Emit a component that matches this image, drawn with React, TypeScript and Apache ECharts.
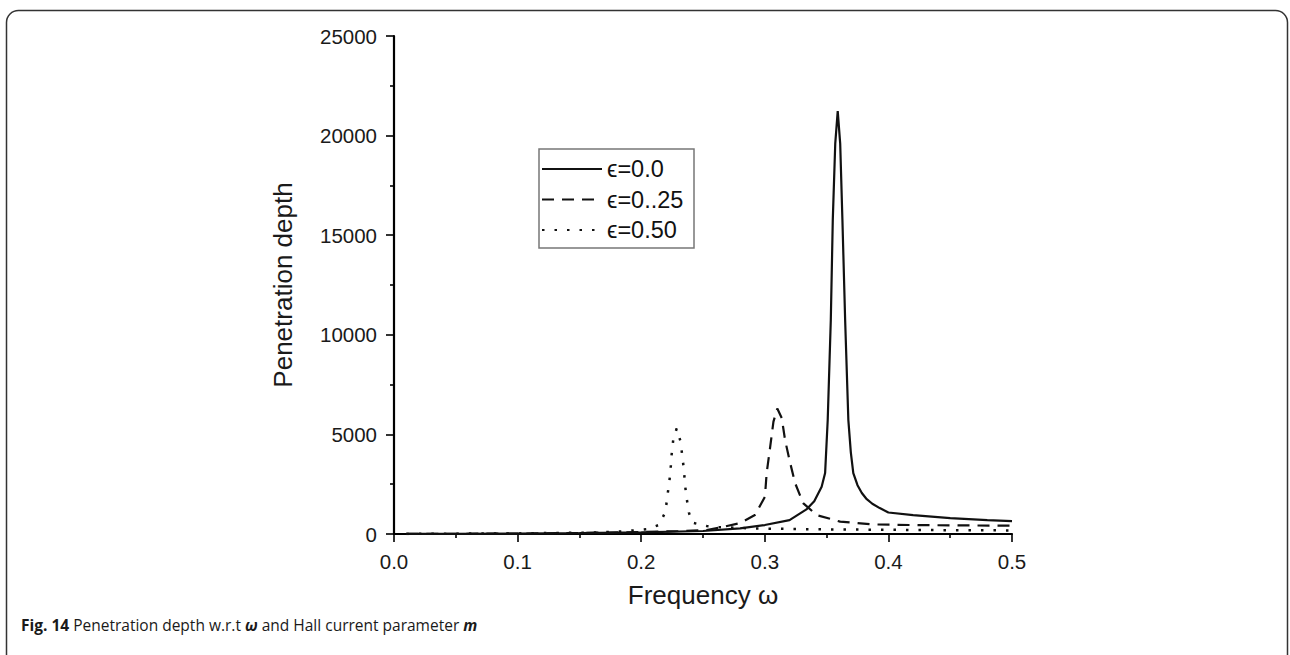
import React, { useEffect, useRef } from "react";
import * as echarts from "echarts";

// ε = 0.0 (solid)
const omega0 = [0.01, 0.05, 0.1, 0.15, 0.2, 0.25, 0.28, 0.3, 0.32, 0.334, 0.34, 0.346, 0.3488, 0.3509, 0.3534, 0.355, 0.357, 0.359, 0.361, 0.3628, 0.365, 0.3676, 0.3696, 0.3716, 0.375, 0.3785, 0.382, 0.387, 0.393, 0.4, 0.42, 0.45, 0.48, 0.5];
const values0 = [5, 10, 20, 40, 80, 150, 280, 450, 700, 1250, 1650, 2370, 3060, 5720, 10740, 15760, 19600, 21230, 19600, 15760, 10740, 5720, 4100, 3060, 2450, 2060, 1780, 1520, 1300, 1080, 950, 800, 700, 650];

// ε = 0.25 (dashed)
const omega25 = [0.01, 0.1, 0.15, 0.2, 0.23, 0.253, 0.266, 0.28, 0.292, 0.3001, 0.3015, 0.3042, 0.307, 0.3101, 0.3137, 0.3164, 0.32, 0.3245, 0.331, 0.342, 0.361, 0.3877, 0.42, 0.46, 0.5];
const values25 = [5, 20, 50, 100, 150, 200, 350, 550, 950, 1870, 3060, 4300, 5640, 6300, 5820, 4720, 3700, 2560, 1550, 950, 620, 480, 450, 430, 420];

// ε = 0.50 (dotted)
const omega50 = [0.01, 0.1, 0.158, 0.181, 0.192, 0.2044, 0.2143, 0.2197, 0.221, 0.2227, 0.2238, 0.2246, 0.2259, 0.2287, 0.2319, 0.2332, 0.2346, 0.2354, 0.2368, 0.2386, 0.2413, 0.253, 0.2627, 0.28, 0.3, 0.35, 0.4, 0.45, 0.5];
const values50 = [5, 30, 70, 115, 170, 240, 450, 1120, 1840, 2575, 3260, 3970, 4720, 5300, 4630, 3930, 3210, 2490, 1790, 1070, 570, 400, 350, 300, 270, 230, 210, 190, 180];

const seriesNames = ["ϵ=0.0", "ϵ=0..25", "ϵ=0.50"];
const xTicks = [0, 0.1, 0.2, 0.3, 0.4, 0.5];
const yTicks = [0, 5000, 10000, 15000, 20000, 25000];

const zip = (xs: number[], ys: number[]) => xs.map((x, i) => [x, ys[i]]);

const FONT = "'Liberation Sans', Arial, Helvetica, sans-serif";

export default function App() {
  const ref = useRef<HTMLDivElement>(null);
  useEffect(() => {
    if (!ref.current) return;
    const chart = echarts.init(ref.current, null, { renderer: "svg" });
    const lineCommon = {
      type: "line",
      symbol: "circle",
      showSymbol: false,
      symbolSize: 0,
      smooth: false,
      silent: true,
    };
    chart.setOption({
      animation: false,
      backgroundColor: "#ffffff",
      grid: { left: 394, right: 278, top: 36, bottom: 121, containLabel: false },
      xAxis: {
        type: "value",
        min: xTicks[0],
        max: xTicks[xTicks.length - 1],
        interval: 0.1,
        name: "Frequency ω",
        nameLocation: "middle",
        nameGap: 48,
        nameTextStyle: { fontFamily: FONT, fontSize: 26, color: "#1a1a1a" },
        axisLine: { show: true, lineStyle: { color: "#000", width: 2.2 } },
        axisTick: { show: true, inside: false, length: 8, lineStyle: { color: "#000", width: 1.6 } },
        minorTick: { show: true, splitNumber: 2, length: 4, lineStyle: { color: "#000", width: 1.6 } },
        axisLabel: {
          fontFamily: FONT,
          fontSize: 20.5,
          color: "#1a1a1a",
          margin: 17,
          formatter: (v: number) => v.toFixed(1),
        },
        splitLine: { show: false },
      },
      yAxis: {
        type: "value",
        min: yTicks[0],
        max: yTicks[yTicks.length - 1],
        interval: 5000,
        name: "Penetration depth",
        nameLocation: "middle",
        nameGap: 98,
        nameTextStyle: { fontFamily: FONT, fontSize: 26, color: "#1a1a1a" },
        axisLine: { show: true, lineStyle: { color: "#000", width: 2.2 } },
        axisTick: { show: true, inside: false, length: 8, lineStyle: { color: "#000", width: 1.6 } },
        minorTick: { show: true, splitNumber: 2, length: 4, lineStyle: { color: "#000", width: 1.6 } },
        axisLabel: {
          fontFamily: FONT,
          fontSize: 20.5,
          color: "#1a1a1a",
          margin: 17,
          formatter: (v: number) => String(v),
        },
        splitLine: { show: false },
      },
      legend: {
        orient: "vertical",
        left: 541,
        top: 157,
        padding: 0,
        itemWidth: 60,
        itemHeight: 14,
        itemGap: 6.5,
        itemStyle: { opacity: 0, borderWidth: 0 },
        textStyle: { fontFamily: FONT, fontSize: 23.5, color: "#111" },
        data: seriesNames,
        selectedMode: false,
      },
      graphic: [
        {
          type: "rect",
          silent: true,
          shape: { x: 6.5, y: 10.5, width: 1281, height: 720, r: 12 },
          style: { fill: "none", stroke: "#333", lineWidth: 1.5 },
        },
        {
          type: "rect",
          silent: true,
          shape: { x: 539, y: 149, width: 155, height: 99 },
          style: { fill: "none", stroke: "#777", lineWidth: 1.5 },
        },
        {
          type: "text",
          silent: true,
          left: 21,
          top: 617,
          style: {
            text: "{b|Fig. 14} Penetration depth w.r.t {bi|ω} and Hall current parameter {bi|m}",
            font: "15.5px 'Open Sans', 'Liberation Sans', sans-serif",
            fill: "#1a1a1a",
            rich: {
              b: { fontWeight: "bold", fontSize: 15.5, fontFamily: "'Open Sans', 'Liberation Sans', sans-serif", fill: "#1a1a1a" },
              bi: { fontWeight: "bold", fontStyle: "italic", fontSize: 15.5, fontFamily: "'Open Sans', 'Liberation Sans', sans-serif", fill: "#1a1a1a" },
            },
          },
        },
      ],
      series: [
        {
          ...lineCommon,
          name: seriesNames[0],
          data: zip(omega0, values0),
          lineStyle: { color: "#111", width: 2.2, type: "solid" },
          itemStyle: { color: "#111" },
        },
        {
          ...lineCommon,
          name: seriesNames[1],
          data: zip(omega25, values25),
          lineStyle: { color: "#111", width: 2.2, type: [12, 8] },
          itemStyle: { color: "#111" },
        },
        {
          ...lineCommon,
          name: seriesNames[2],
          data: zip(omega50, values50),
          lineStyle: { color: "#111", width: 2.5, type: [2.5, 10] },
          itemStyle: { color: "#111" },
        },
      ],
    });
    return () => chart.dispose();
  }, []);
  return (
    <div
      ref={ref}
      style={{ position: "absolute", left: 0, top: 0, width: 1290, height: 655, background: "#fff" }}
    />
  );
}
